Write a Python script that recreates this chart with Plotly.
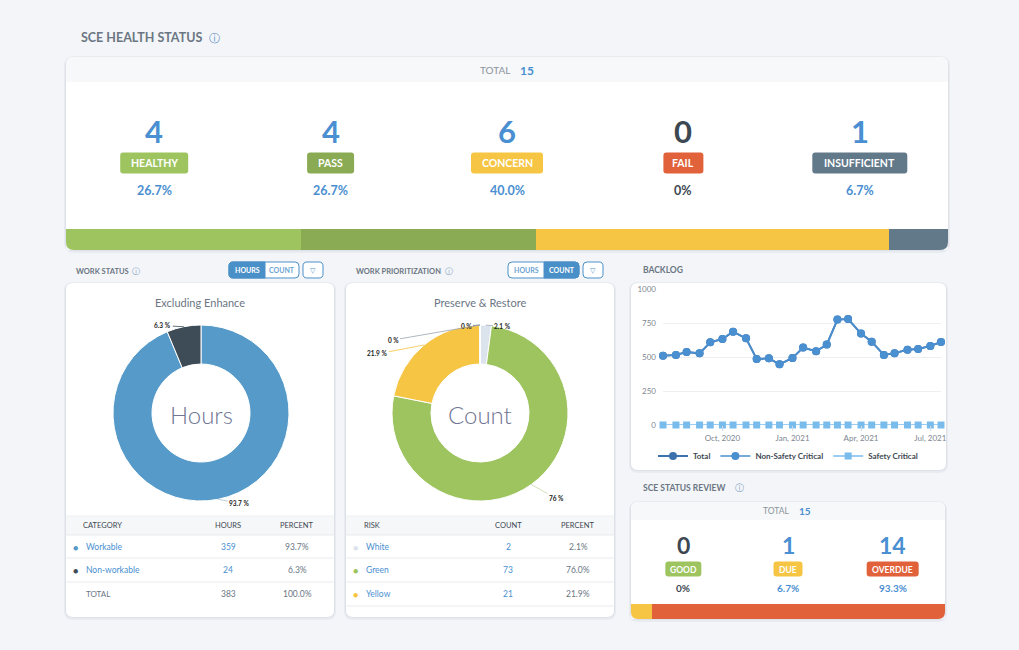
import math
import plotly.graph_objects as go

W, H = 1019, 650

# ---------------- data ----------------
health_labels = ["HEALTHY", "PASS", "CONCERN", "FAIL", "INSUFFICIENT"]
health_counts = [4, 4, 6, 0, 1]

work_categories = ["Workable", "Non-workable"]
work_hours = [359, 24]

risk_labels = ["White", "Green", "Yellow", "Orange", "Red"]
risk_counts = [2, 73, 21, 0, 0]

backlog_dates = ["2020-07-15", "2020-08-01", "2020-08-15", "2020-09-01", "2020-09-15",
                 "2020-10-01", "2020-10-15", "2020-11-01", "2020-11-15", "2020-12-01",
                 "2020-12-15", "2021-01-01", "2021-01-15", "2021-02-01", "2021-02-15",
                 "2021-03-01", "2021-03-15", "2021-04-01", "2021-04-15", "2021-05-01",
                 "2021-05-15", "2021-06-01", "2021-06-15", "2021-07-01", "2021-07-15"]
backlog_total = [510, 515, 537, 527, 608, 632, 686, 637, 485, 490, 446, 493, 569,
                 542, 591, 775, 779, 672, 613, 515, 527, 554, 559, 581, 610]
backlog_non_safety = [510, 515, 537, 527, 608, 632, 686, 637, 485, 490, 446, 493, 569,
                      542, 591, 775, 779, 672, 613, 515, 527, 554, 559, 581, 610]
backlog_safety = [0, 0, 0, 0, 0, 0, 0, 0, 0, 0, 0, 0, 0,
                  0, 0, 0, 0, 0, 0, 0, 0, 0, 0, 0, 0]
backlog_ticks = [0, 250, 500, 750, 1000]

review_labels = ["GOOD", "DUE", "OVERDUE"]
review_counts = [0, 1, 14]

# ---------------- styles ----------------
FONT = "Lato, 'Open Sans', 'DejaVu Sans', sans-serif"
BG = "#f3f5f8"
BLUE_TXT = "#4a8fd1"
DARK_TXT = "#3d4852"
GRAY_TXT = "#6b7683"
health_colors = ["#9dc45f", "#8aab54", "#f6c544", "#e0613a", "#62798a"]
health_pill_w = [68, 47, 72, 40, 95]
review_colors = ["#9dc45f", "#f6c544", "#e0613a"]
review_pill_w = [36, 29, 52]
work_colors = ["#559ac8", "#3e4c57"]
work_label_off = [(21, 4), (-21, -1)]
work_line_col = ["#a9bfd0", "#3e4c57"]
risk_colors = ["#dbe4ec", "#9dc45f", "#f6c544", "#e0613a", "#c23b2a"]
risk_label_off = [(17, 1), (25, 14), (-47, 9), (-14, 1), (-87, 15)]
risk_line_col = ["#9aa5ae", "#c6d6a8", "#f6c544", "#5d6b75", "#9aa5ae"]


def X(p):
    return p / W


def Y(p):
    return 1 - p / H


def P(x, y):
    return f"{X(x):.5f},{Y(y):.5f}"


shapes = []
annotations = []


def rpath(x0, y0, x1, y1, tl=0, tr=0, br=0, bl=0):
    d = f"M {P(x0 + tl, y0)} L {P(x1 - tr, y0)} "
    if tr:
        d += f"Q {P(x1, y0)} {P(x1, y0 + tr)} "
    d += f"L {P(x1, y1 - br)} "
    if br:
        d += f"Q {P(x1, y1)} {P(x1 - br, y1)} "
    d += f"L {P(x0 + bl, y1)} "
    if bl:
        d += f"Q {P(x0, y1)} {P(x0, y1 - bl)} "
    d += f"L {P(x0, y0 + tl)} "
    if tl:
        d += f"Q {P(x0, y0)} {P(x0 + tl, y0)} "
    return d + "Z"


def add_path(d, fill, line=None, lw=0, layer="below"):
    shapes.append(dict(type="path", path=d, xref="paper", yref="paper",
                       fillcolor=fill, layer=layer,
                       line=dict(color=line or fill, width=lw)))


def card(x0, y0, x1, y1, r=7):
    add_path(rpath(x0 - 2, y0 - 1, x1 + 2, y1 + 3, r + 2, r + 2, r + 2, r + 2), "rgba(40,60,90,0.05)")
    add_path(rpath(x0 - 1, y0, x1 + 1, y1 + 1, r + 1, r + 1, r + 1, r + 1), "rgba(40,60,90,0.05)")
    add_path(rpath(x0, y0, x1, y1, r, r, r, r), "#ffffff")


def corner_masks(x0, x1, y1, r):
    add_path(f"M {P(x0, y1 - r)} L {P(x0, y1)} L {P(x0 + r, y1)} Q {P(x0, y1)} {P(x0, y1 - r)} Z",
             BG, layer="above")
    add_path(f"M {P(x1, y1 - r)} L {P(x1, y1)} L {P(x1 - r, y1)} Q {P(x1, y1)} {P(x1, y1 - r)} Z",
             BG, layer="above")


def line(x0, y0, x1, y1, color="#e8ecf0", w=1):
    shapes.append(dict(type="line", xref="paper", yref="paper", x0=X(x0), y0=Y(y0),
                       x1=X(x1), y1=Y(y1), line=dict(color=color, width=w), layer="below"))


def rect(x0, y0, x1, y1, fill):
    shapes.append(dict(type="rect", xref="paper", yref="paper", x0=X(x0), y0=Y(y0),
                       x1=X(x1), y1=Y(y1), fillcolor=fill, line=dict(width=0), layer="below"))


def txt(x, y, text, size, color, weight="normal", xanchor="center"):
    annotations.append(dict(x=X(x), y=Y(y), xref="paper", yref="paper", text=text,
                            showarrow=False, xanchor=xanchor, yanchor="middle",
                            font=dict(size=size, color=color, family=FONT, weight=weight)))


def pill(cx, cy, w, h, color, label, size):
    add_path(rpath(cx - w / 2, cy - h / 2, cx + w / 2, cy + h / 2, 3, 3, 3, 3), color)
    txt(cx, cy + 0.5, label, size, "#ffffff", "bold")


def pct_text(v, total):
    return "0%" if v == 0 else f"{100 * v / total:.1f}%"


def donut_pct(v, total):
    s = f"{100 * v / total:.1f}".rstrip("0").rstrip(".")
    return s + " %"


fig = go.Figure()

# ---------------- SCE HEALTH STATUS ----------------
txt(79, 37, "SCE HEALTH STATUS", 12.5, GRAY_TXT, "bold", "left")
txt(214, 37, "ⓘ", 11, "#5b8fc7")
card(66, 57, 948, 250, 8)
add_path(rpath(66, 57, 948, 82, 8, 8, 0, 0), "#f6f8fa")
h_total = sum(health_counts)
txt(512, 70, "TOTAL", 10, "#8a939c", "normal", "right")
txt(518, 70, str(h_total), 12, BLUE_TXT, "bold", "left")
col_w = (948 - 66) / len(health_labels)
for i, (lab, cnt) in enumerate(zip(health_labels, health_counts)):
    cx = 66 + col_w * (i + 0.5)
    c = BLUE_TXT if cnt > 0 else DARK_TXT
    txt(cx, 131, str(cnt), 31, c, "bold")
    pill(cx, 163, health_pill_w[i], 21, health_colors[i], lab, 10.5)
    txt(cx, 190, pct_text(cnt, h_total), 12.5, c, "bold")

for lab, cnt, col in zip(health_labels, health_counts, health_colors):
    fig.add_trace(go.Bar(x=[cnt], y=[0], orientation="h", marker=dict(color=col, line=dict(width=0)),
                         width=1, name=lab, showlegend=False, xaxis="x", yaxis="y",
                         hoverinfo="skip"))
corner_masks(66, 948, 250, 8)

# ---------------- WORK STATUS ----------------
txt(74, 271, "WORK STATUS", 7.5, GRAY_TXT, "bold", "left")
txt(136, 271, "ⓘ", 8, "#7d9cc0")
txt(354, 271, "WORK PRIORITIZATION", 7.5, GRAY_TXT, "bold", "left")
txt(449, 271, "ⓘ", 8, "#7d9cc0")


def toggle(x0, xm, x1, active_left):
    y0, y1 = 262, 278
    BL = "#4a90c8"
    add_path(rpath(x0, y0, x1, y1, 4, 4, 4, 4), "#ffffff", BL, 1)
    if active_left:
        add_path(rpath(x0, y0, xm, y1, 4, 0, 0, 4), BL, BL, 1)
    else:
        add_path(rpath(xm, y0, x1, y1, 0, 4, 4, 0), BL, BL, 1)
    txt((x0 + xm) / 2, 270.5, "HOURS", 7, "#ffffff" if active_left else "#6aa3d3", "bold")
    txt((xm + x1) / 2, 270.5, "COUNT", 7, "#6aa3d3" if active_left else "#ffffff", "bold")
    add_path(rpath(x1 + 4, y0, x1 + 24, y1, 4, 4, 4, 4), "#ffffff", BL, 1)
    txt(x1 + 14, 270.5, "▽", 7, BL)


toggle(229, 265, 299, True)
toggle(508, 544, 579, False)

card(66, 283, 334, 617, 7)
card(346, 283, 614, 617, 7)
txt(200, 302, "Excluding Enhance", 11, GRAY_TXT)
txt(480, 302, "Preserve & Restore", 11, GRAY_TXT)

R_OUT = 88
fig.add_trace(go.Pie(values=work_hours, labels=work_categories, hole=0.557, sort=False,
                     direction="clockwise", rotation=0, textinfo="none", showlegend=False,
                     marker=dict(colors=work_colors, line=dict(color="#ffffff", width=1)),
                     domain=dict(x=[X(201 - R_OUT), X(201 + R_OUT)], y=[Y(413 + R_OUT), Y(413 - R_OUT)])))
fig.add_trace(go.Pie(values=risk_counts, labels=risk_labels, hole=0.557, sort=False,
                     direction="clockwise", rotation=0, textinfo="none", showlegend=False,
                     marker=dict(colors=risk_colors, line=dict(color="#ffffff", width=1)),
                     domain=dict(x=[X(480 - R_OUT), X(480 + R_OUT)], y=[Y(413 + R_OUT), Y(413 - R_OUT)])))
txt(201, 414, "Hours", 24, "#6f7592", 300)
txt(480, 414, "Count", 24, "#6f7592", 300)


def donut_labels(values, cx, cy, offs, cols):
    tot = sum(values)
    cum = 0.0
    for v, (ax, ay), col in zip(values, offs, cols):
        frac = v / tot
        mid = (cum + frac / 2) * 2 * math.pi
        cum += frac
        ex = cx + R_OUT * math.sin(mid)
        ey = cy - R_OUT * math.cos(mid)
        annotations.append(dict(x=X(ex), y=Y(ey), xref="paper", yref="paper",
                                text=donut_pct(v, tot), showarrow=True, arrowhead=0,
                                arrowwidth=0.8, arrowcolor=col, ax=ax, ay=ay, standoff=0,
                                font=dict(size=6.5, color="#222222", family=FONT, weight="bold")))


donut_labels(work_hours, 201, 413, work_label_off, work_line_col)
donut_labels(risk_counts, 480, 413, risk_label_off, risk_line_col)

# tables
for (x0, x1) in [(66, 334), (346, 614)]:
    rect(x0, 516, x1, 535, "#f5f7f9")
    line(x0, 516, x1, 516, "#edf0f3")
    line(x0, 535, x1, 535, "#e6eaee")
    line(x0, 558, x1, 558)
    line(x0, 582, x1, 582)
line(346, 606, 614, 606)

txt(81, 525, "CATEGORY", 7.5, DARK_TXT, "normal", "left")
txt(228, 525, "HOURS", 7.5, DARK_TXT)
txt(297, 525, "PERCENT", 7.5, DARK_TXT)
w_total = sum(work_hours)
row_y = [547, 570, 594]
for i, (name, v) in enumerate(zip(work_categories, work_hours)):
    txt(75, row_y[i], "●", 9, work_colors[i])
    txt(84, row_y[i], name, 8.5, BLUE_TXT, "normal", "left")
    txt(228, row_y[i], str(v), 8.5, BLUE_TXT)
    txt(297, row_y[i], pct_text(v, w_total), 8.5, GRAY_TXT)
txt(84, row_y[2], "TOTAL", 8, GRAY_TXT, "normal", "left")
txt(228, row_y[2], str(w_total), 8.5, GRAY_TXT)
txt(297, row_y[2], "100.0%", 8.5, GRAY_TXT)

txt(362, 525, "RISK", 7.5, DARK_TXT, "normal", "left")
txt(508, 525, "COUNT", 7.5, DARK_TXT)
txt(578, 525, "PERCENT", 7.5, DARK_TXT)
r_total = sum(risk_counts)
j = 0
for name, v, col in zip(risk_labels, risk_counts, risk_colors):
    if v == 0:
        continue
    txt(355, row_y[j], "●", 9, col)
    txt(364, row_y[j], name, 8.5, BLUE_TXT, "normal", "left")
    txt(508, row_y[j], str(v), 8.5, BLUE_TXT)
    txt(578, row_y[j], pct_text(v, r_total), 8.5, GRAY_TXT)
    j += 1

# ---------------- BACKLOG ----------------
txt(641, 270, "BACKLOG", 8.5, GRAY_TXT, "bold", "left")
card(631, 283, 946, 470, 7)
fig.add_trace(go.Scatter(x=backlog_dates, y=backlog_total, name="Total", mode="lines+markers",
                         line=dict(color="#3d72ad", width=2), marker=dict(size=8, color="#3d72ad"),
                         xaxis="x3", yaxis="y3", cliponaxis=False))
fig.add_trace(go.Scatter(x=backlog_dates, y=backlog_non_safety, name="Non-Safety Critical",
                         mode="lines+markers", line=dict(color="#4a8fd0", width=1.6),
                         marker=dict(size=8, color="#4a8fd0", symbol="circle"),
                         xaxis="x3", yaxis="y3", cliponaxis=False))
fig.add_trace(go.Scatter(x=backlog_dates, y=backlog_safety, name="Safety Critical",
                         mode="lines+markers", line=dict(color="#79bcec", width=1.6),
                         marker=dict(size=7, color="#79bcec", symbol="square"),
                         xaxis="x3", yaxis="y3", cliponaxis=False))

# ---------------- SCE STATUS REVIEW ----------------
txt(641, 488, "SCE STATUS REVIEW", 8.5, GRAY_TXT, "bold", "left")
txt(739, 488, "ⓘ", 8.5, "#7d9cc0")
card(631, 502, 945, 619, 7)
add_path(rpath(631, 502, 945, 520, 7, 7, 0, 0), "#f6f8fa")
rv_total = sum(review_counts)
txt(791, 511, "TOTAL", 8.5, "#8a939c", "normal", "right")
txt(797, 511, str(rv_total), 10, BLUE_TXT, "bold", "left")
rcol_w = (945 - 631) / len(review_labels)
for i, (lab, cnt) in enumerate(zip(review_labels, review_counts)):
    cx = 631 + rcol_w * (i + 0.5)
    c = BLUE_TXT if cnt > 0 else DARK_TXT
    txt(cx, 545, str(cnt), 23, c, "bold")
    pill(cx, 569, review_pill_w[i], 15, review_colors[i], lab, 8.5)
    txt(cx, 588, pct_text(cnt, rv_total), 10, c, "bold")
for lab, cnt, col in zip(review_labels, review_counts, review_colors):
    fig.add_trace(go.Bar(x=[cnt], y=[0], orientation="h", marker=dict(color=col, line=dict(width=0)),
                         width=1, name=lab, showlegend=False, xaxis="x2", yaxis="y2",
                         hoverinfo="skip"))
corner_masks(631, 945, 619, 7)

hidden = dict(visible=False, fixedrange=True, automargin=False)
fig.update_layout(
    width=W, height=H, autosize=False,
    margin=dict(l=0, r=0, t=0, b=0, pad=0, autoexpand=False),
    paper_bgcolor=BG, plot_bgcolor="rgba(0,0,0,0)",
    font=dict(family=FONT),
    barmode="stack", bargap=0,
    shapes=shapes, annotations=annotations,
    xaxis=dict(domain=[X(66), X(948)], range=[0, h_total], **hidden),
    yaxis=dict(domain=[Y(250), Y(229)], range=[-0.5, 0.5], **hidden),
    xaxis2=dict(domain=[X(631), X(945)], range=[0, rv_total], anchor="y2", **hidden),
    yaxis2=dict(domain=[Y(619), Y(604)], range=[-0.5, 0.5], anchor="x2", **hidden),
    xaxis3=dict(domain=[X(663), X(941)], anchor="y3", range=[backlog_dates[0], backlog_dates[-1]],
                type="date", tickformat="%b, %Y", dtick="M3", tick0="2020-10-01",
                showgrid=False, zeroline=False, showline=False, ticks="outside", ticklen=5,
                tickcolor="#cfdbe6", tickfont=dict(size=8, color="#7d8690"), fixedrange=True,
                automargin=False),
    yaxis3=dict(domain=[Y(425), Y(289)], anchor="x3", range=[0, 1000], tickvals=backlog_ticks,
                showgrid=True, gridcolor="#edf0f3", zeroline=False, showline=False,
                tickfont=dict(size=8, color="#7d8690"), ticklabelstandoff=6, fixedrange=True,
                automargin=False),
    legend=dict(orientation="h", x=X(788), xanchor="center", y=Y(456), yanchor="middle",
                font=dict(size=8, color=DARK_TXT, family=FONT, weight="bold"),
                bgcolor="rgba(0,0,0,0)", itemwidth=30, tracegroupgap=0, traceorder="normal"),
    hovermode=False,
)

fig.write_html("out.html", config={"displayModeBar": False},
               post_script="document.body.style.margin='0';document.body.style.overflow='hidden';")
